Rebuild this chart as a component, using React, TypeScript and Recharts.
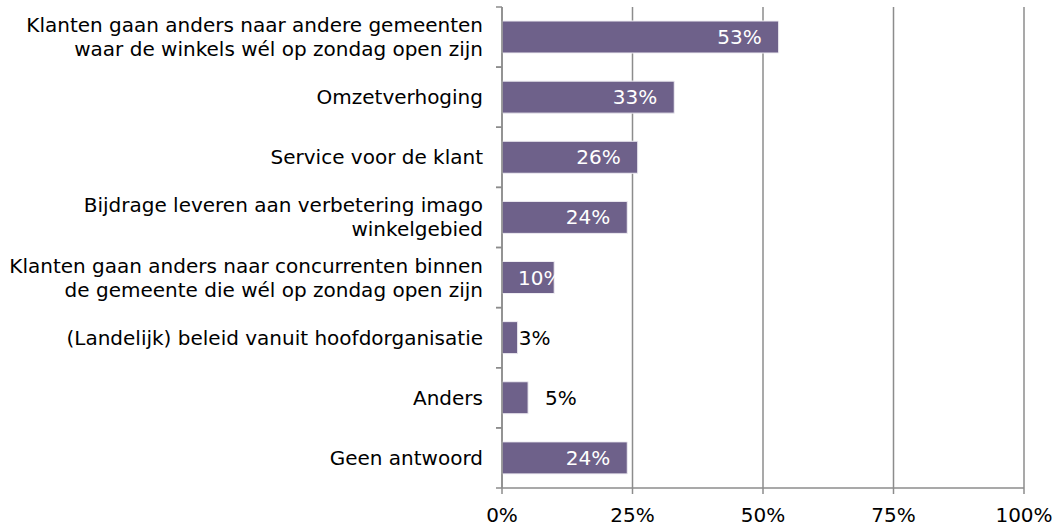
import { BarChart, Bar, XAxis, YAxis, CartesianGrid, LabelList } from "recharts";

const categories = [
  "Klanten gaan anders naar andere gemeenten|waar de winkels wél op zondag open zijn",
  "Omzetverhoging",
  "Service voor de klant",
  "Bijdrage leveren aan verbetering imago|winkelgebied",
  "Klanten gaan anders naar concurrenten binnen|de gemeente die wél op zondag open zijn",
  "(Landelijk) beleid vanuit hoofdorganisatie",
  "Anders",
  "Geen antwoord",
];
const values = [53, 33, 26, 24, 10, 3, 5, 24];
const xTicks = [0, 25, 50, 75, 100];

const data = categories.map((name, i) => ({ name, value: values[i] }));

const FONT = "Verdana, 'DejaVu Sans', sans-serif";
const GREY = "#8c8c8c";
const TICK_MARGIN = 19;

function CategoryTick(props: any) {
  const { x, y, payload } = props;
  const lines = String(payload.value).split("|");
  const lh = 24;
  const start = -((lines.length - 1) * lh) / 2;
  const axisX = x + TICK_MARGIN;
  const half = payload.offset || 30;
  return (
    <g>
      <line x1={axisX - 6} x2={axisX} y1={y - half} y2={y - half} stroke={GREY} strokeWidth={1.5} />
      <line x1={axisX - 6} x2={axisX} y1={y + half} y2={y + half} stroke={GREY} strokeWidth={1.5} />
      <text x={x} y={y} textAnchor="end" fill="#000" fontSize={20} fontFamily={FONT}>
        {lines.map((l, i) => (
          <tspan key={i} x={x} y={y + start + i * lh} dy="0.35em">
            {l}
          </tspan>
        ))}
      </text>
    </g>
  );
}

function ValueLabel(props: any) {
  const { x, y, width, height, value } = props;
  const cy = y + height / 2;
  const txt = `${value}%`;
  if (value >= 10) {
    const end = x + width - 17;
    const textW = txt.length * 12.7;
    const useStart = end - textW < x + 16;
    return (
      <text
        x={useStart ? x + 16 : end}
        y={cy}
        dy="0.35em"
        textAnchor={useStart ? "start" : "end"}
        fill="#fff"
        fontSize={20}
        fontFamily={FONT}
      >
        {txt}
      </text>
    );
  }
  return (
    <text
      x={x + width + (value < 4 ? 1 : 17)}
      y={cy}
      dy="0.35em"
      textAnchor="start"
      fill="#000"
      fontSize={20}
      fontFamily={FONT}
    >
      {txt}
    </text>
  );
}

export default function App() {
  return (
    <div style={{ position: "absolute", left: 0, top: 0, background: "#fff" }}>
      <BarChart
        width={1056}
        height={527}
        data={data}
        layout="vertical"
        margin={{ top: 7, right: 32, bottom: 0, left: 0 }}
        barSize={32}
      >
        <CartesianGrid horizontal={false} stroke={GREY} strokeWidth={1.5} />
        <XAxis
          type="number"
          domain={[0, 100]}
          ticks={xTicks}
          tickFormatter={(v) => `${v}%`}
          axisLine={{ stroke: GREY, strokeWidth: 1.5 }}
          tickLine={{ stroke: GREY, strokeWidth: 1.5 }}
          tickSize={6}
          tickMargin={14}
          height={39}
          tick={{ fill: "#000", fontSize: 20, fontFamily: FONT }}
          interval={0}
        />
        <YAxis
          type="category"
          dataKey="name"
          width={502}
          axisLine={{ stroke: GREY, strokeWidth: 1.5 }}
          tickLine={false}
          tickSize={0}
          tickMargin={TICK_MARGIN}
          tick={<CategoryTick />}
          interval={0}
        />
        <Bar dataKey="value" fill="#6e618a" stroke="#efedf3" strokeWidth={1} isAnimationActive={false}>
          <LabelList dataKey="value" content={<ValueLabel />} />
        </Bar>
      </BarChart>
    </div>
  );
}
